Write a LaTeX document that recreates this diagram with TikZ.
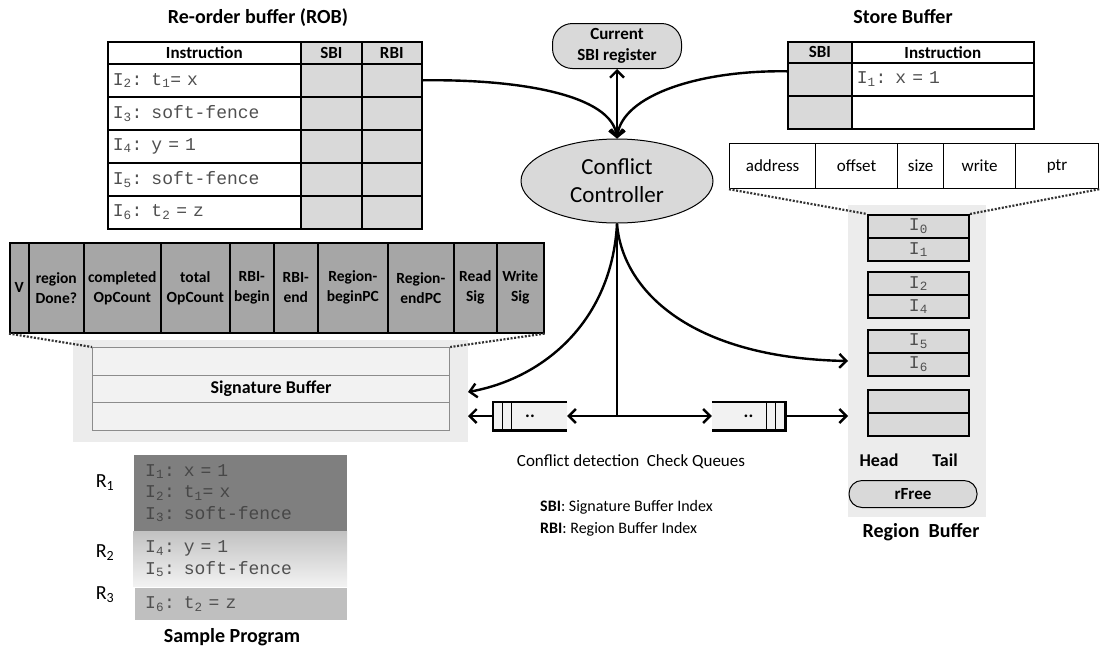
\documentclass[tikz,border=0pt]{standalone}
\usepackage{fontspec}
\setmainfont{Carlito}
\setmonofont{Liberation Mono}
\usepackage{xcolor}
\definecolor{CellGray}{RGB}{217,217,217}
\definecolor{FieldGray}{RGB}{166,166,166}
\definecolor{PanelGray}{RGB}{236,236,236}
\definecolor{QueueGray}{RGB}{242,242,242}
\definecolor{RegDark}{RGB}{127,127,127}
\definecolor{RegMid}{RGB}{191,191,191}
\definecolor{CodeGray}{RGB}{80,80,80}
\usetikzlibrary{arrows.meta, shapes.geometric, positioning}

\newcommand{\dgTitle}{\fontsize{20}{24}\selectfont\bfseries}
\newcommand{\dgHead}{\fontsize{17}{20}\selectfont\bfseries}
\newcommand{\dgBody}{\fontsize{16}{20}\selectfont}
\newcommand{\dgCode}{\fontsize{18}{21.5}\selectfont\ttfamily}

\tikzset{
  tcell/.style={draw, line width=1.6pt, anchor=north west, inner sep=0pt},
  codecell/.style={tcell, fill=white, font=\dgCode, text=CodeGray, align=left},
  regcell/.style={draw, line width=1.8pt, fill=CellGray, minimum width=101, minimum height=23,
                  anchor=north west, font=\dgCode, text=CodeGray},
  link/.style={line width=2.4pt, -{Straight Barb[length=7pt, width=14pt]}},
  dlink/.style={line width=2.4pt, {Straight Barb[length=7pt, width=14pt]}-{Straight Barb[length=7pt, width=14pt]}},
  zoomline/.style={line width=2.2pt, black!80, dash pattern=on 2pt off 1.6pt},
  qline/.style={line width=2.6pt},
}

\begin{document}
\begin{tikzpicture}[x=1pt, y=-1pt, every node/.style={inner sep=0pt}]
  \useasboundingbox (0,0) rectangle (1100,649);

  % --- Re-order buffer ---
  \node[font=\dgTitle] (robtitle) at (258,18) {Re-order buffer (ROB)};
  \node[tcell, fill=white, minimum width=193, minimum height=22, font=\dgHead] (robhi) at (107,41) {Instruction};
  \node[tcell, fill=CellGray, minimum width=61, minimum height=22, font=\dgHead] (robhs) at (300,41) {SBI};
  \node[tcell, fill=CellGray, minimum width=60, minimum height=22, font=\dgHead] (robhr) at (361,41) {RBI};
  \foreach \idx/\txt [count=\row from 0] in {2/{t\textsubscript{1}= x}, 3/soft-fence, 4/{y = 1},
                                             5/soft-fence, 6/{t\textsubscript{2} = z}} {
    \node[codecell, minimum width=193, minimum height=33, text width=183] (robi\idx) at (107,{63+33*\row}) {I\textsubscript{\idx}: \txt};
    \node[tcell, fill=CellGray, minimum width=61, minimum height=33] (robs\idx) at (300,{63+33*\row}) {};
    \node[tcell, fill=CellGray, minimum width=60, minimum height=33] (robr\idx) at (361,{63+33*\row}) {};
  }

  % --- Current SBI register, controller ---
  \node[draw, line width=1pt, fill=CellGray, rounded corners=20pt, minimum width=129, minimum height=45,
        align=center, font=\fontsize{17}{21}\selectfont\bfseries] (sbireg) at (617,46) {Current\\SBI register};
  \node[ellipse, draw, line width=1pt, fill=CellGray, minimum width=192, minimum height=84,
        align=center, font=\fontsize{23}{28}\selectfont] (ctrl) at (617,181) {Conflict\\Controller};

  % --- Store buffer ---
  \node[font=\dgTitle] (sbtitle) at (903,17) {Store Buffer};
  \node[tcell, fill=CellGray, minimum width=64, minimum height=21, font=\dgHead] (sbhs) at (787,41) {SBI};
  \node[tcell, fill=white, minimum width=182, minimum height=21, font=\dgHead] (sbhi) at (851,41) {Instruction};
  \node[tcell, fill=CellGray, minimum width=64, minimum height=33] (sbs1) at (787,62) {};
  \node[codecell, minimum width=182, minimum height=33, text width=172] (sbi1) at (851,62) {I\textsubscript{1}: x = 1};
  \node[tcell, fill=CellGray, minimum width=64, minimum height=33] (sbs2) at (787,95) {};
  \node[tcell, fill=white, minimum width=182, minimum height=33] (sbi2) at (851,95) {};
  \foreach \x/\w/\fld [count=\k] in {729/86/address, 815/82/offset, 897/46/size, 943/72/write, 1015/83/ptr} {
    \node[tcell, line width=1.2pt, fill=white, minimum width=\w, minimum height=45,
          font=\fontsize{17}{20}\selectfont] (sbf\k) at (\x,143) {\fld};
  }

  % --- Region buffer ---
  \fill[PanelGray] (848,205) rectangle (986,517);
  \foreach \ty/\a/\b [count=\g] in {214/0/1, 271/2/4, 329/5/6} {
    \node[regcell] (rbt\g) at (867,\ty) {I\textsubscript{\a}};
    \node[regcell] (rbb\g) at (867,\ty+23) {I\textsubscript{\b}};
  }
  \node[regcell] (rbt4) at (867,389) {};
  \node[regcell] (rbb4) at (867,412) {};
  \draw[zoomline] (sbf1.south west) -- (rbt1.north west);
  \draw[zoomline] (sbf5.south east) -- (rbt1.north east);
  \node[font=\fontsize{18}{21}\selectfont\bfseries] (rbhead) at (879,460) {Head};
  \node[font=\fontsize{18}{21}\selectfont\bfseries] (rbtail) at (945,460) {Tail};
  \node[draw, line width=1pt, fill=CellGray, rounded corners=13pt, minimum width=128, minimum height=27,
        font=\dgHead] (rfree) at (913,494) {rFree};
  \node[font=\dgTitle] (rbtitle) at (921,532) {Region~ Buffer};

  % --- Signature fields and signature buffer ---
  \foreach \x/\w/\fld [count=\k] in {9/19/V, 28/55/{region\\Done?}, 83/77/{completed\\OpCount},
                                     160/69/{total\\OpCount}, 229/44/{RBI-\\begin}, 273/44/{RBI-\\end},
                                     317/70/{Region-\\beginPC}, 387/66/{Region-\\endPC},
                                     453/43/{Read\\Sig}, 496/47/{Write\\Sig}} {
    \node[tcell, fill=FieldGray, minimum width=\w, minimum height=90, align=center,
          font=\fontsize{15.5}{20}\selectfont\bfseries] (sf\k) at (\x,242) {\fld};
  }
  \fill[PanelGray] (73,340) rectangle (468,442);
  \foreach \ty/\lbl [count=\k] in {347/{}, 374.5/Signature Buffer, 402/{}} {
    \node[tcell, draw=black!45, line width=1.2pt, fill=QueueGray, minimum width=357, minimum height=27.5,
          font=\fontsize{18}{21}\selectfont\bfseries] (sg\k) at (92,\ty) {\lbl};
  }
  \draw[zoomline] (sf1.south west) -- (sg1.north west);
  \draw[zoomline] (sf10.south east) -- (sg1.north east);

  % --- Check queues ---
  \node[fill=QueueGray, minimum width=74, minimum height=28, font=\fontsize{18}{20}\selectfont\bfseries] (lq) at (530,416) {..};
  \draw[qline] (lq.north east) -- (lq.north west) -- (lq.south west) -- (lq.south east);
  \draw[line width=1.2pt] ([xshift=10pt]lq.north west) -- ([xshift=10pt]lq.south west)
                          ([xshift=19pt]lq.north west) -- ([xshift=19pt]lq.south west);
  \node[fill=QueueGray, minimum width=73, minimum height=28, font=\fontsize{18}{20}\selectfont\bfseries] (rq) at (748.5,416) {..};
  \draw[qline] (rq.north west) -- (rq.north east) -- (rq.south east) -- (rq.south west);
  \draw[line width=1.2pt] ([xshift=-10pt]rq.north east) -- ([xshift=-10pt]rq.south east)
                          ([xshift=-19pt]rq.north east) -- ([xshift=-19pt]rq.south east);
  \node[font=\fontsize{17}{20}\selectfont] (cqlabel) at (631,462) {Conflict detection~ Check Queues};
  \node[anchor=west, font=\dgBody] (sbikey) at (540,507) {\textbf{SBI}: Signature Buffer Index};
  \node[anchor=west, font=\dgBody] (rbikey) at (540,529) {\textbf{RBI}: Region Buffer Index};

  % --- Connectors ---
  \coordinate (sbarrow) at (468,392);
  \coordinate (sbq) at (468,416);
  \coordinate (rbarrow) at (848,361);
  \coordinate (rbq) at (848,416);
  \draw[link] (robr2.east) .. controls (520,79) and (612,95) .. (ctrl.north);
  \draw[link] ([yshift=8pt]sbs1.west) .. controls (700,70) and (622,95) .. (ctrl.north);
  \draw[dlink] (ctrl.north) -- (sbireg.south);
  \draw[link] (ctrl.south) -- (ctrl.south |- lq.east) coordinate (qsplit) -- (lq.east);
  \draw[link] (qsplit) -- (rq.west);
  \draw[link] (ctrl.south) .. controls (612,320) and (545,378) .. (sbarrow);
  \draw[link] (ctrl.south) .. controls (622,290) and (690,358) .. (rbarrow);
  \draw[link] (lq.west) -- (sbq);
  \draw[link] (rq.east) -- (rbq);

  % --- Sample program ---
  \node[anchor=north west, fill=RegDark, minimum width=213, minimum height=76, inner xsep=11, text width=191,
        align=left, font=\dgCode, text=black!72] (rg1) at (134,455)
        {I\textsubscript{1}: x = 1\\I\textsubscript{2}: t\textsubscript{1}= x\\I\textsubscript{3}: soft-fence};
  \node[anchor=north west, top color=black!24, bottom color=black!5, minimum width=214, minimum height=55,
        inner xsep=12, text width=190, align=left, font=\dgCode, text=CodeGray] (rg2) at (133,531)
        {I\textsubscript{4}: y = 1\\I\textsubscript{5}: soft-fence};
  \node[anchor=north west, fill=RegMid, minimum width=212, minimum height=32, inner xsep=10, text width=192,
        align=left, font=\dgCode, text=CodeGray] (rg3) at (135,588) {I\textsubscript{6}: t\textsubscript{2} = z};
  \node[font=\fontsize{20}{22}\selectfont] (rl1) at (105,483) {R\textsubscript{1}};
  \node[font=\fontsize{20}{22}\selectfont] (rl2) at (105,553) {R\textsubscript{2}};
  \node[font=\fontsize{20}{22}\selectfont] (rl3) at (105,595) {R\textsubscript{3}};
  \node[font=\dgTitle] (sptitle) at (232,637) {Sample Program};
\end{tikzpicture}
\end{document}
